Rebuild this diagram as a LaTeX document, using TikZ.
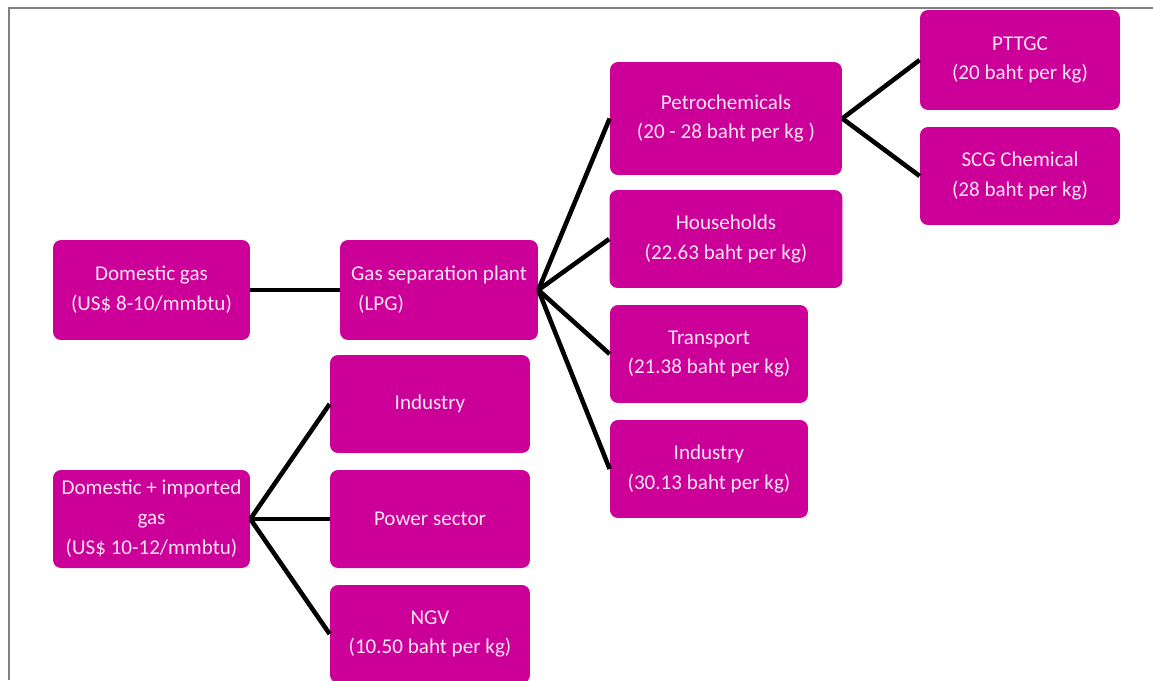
\documentclass[tikz,border=0pt]{standalone}
\usepackage{fontspec}
\setmainfont{Carlito}
\definecolor{boxmagenta}{RGB}{204,0,153}
\definecolor{boxtext}{RGB}{252,228,246}
\tikzset{
	box/.style={fill=boxmagenta, rounded corners=0.16cm, text=boxtext, align=center,
		font=\fontsize{12}{17}\selectfont, inner sep=2pt, minimum width=4cm, minimum height=1.96cm},
	link/.style={line width=2.6pt, black}
}
\begin{document}
\begin{tikzpicture}[x=0.02cm, y=-0.02cm]
			\useasboundingbox (0,0) rectangle (1153,680);
			\draw[line width=1.2pt, color=gray] (9,680) -- (9,8) -- (1153,8);
			% sources and plant
			\node[box, minimum width=3.94cm, minimum height=2cm] (dgas) at (151.5,290) {Domestic gas\\(US\$ 8-10/mmbtu)};
			\node[box, align=left, minimum width=3.96cm, minimum height=2cm] (gsp) at (439,290) {Gas separation plant\\\,\,(LPG)};
			\node[box, minimum width=3.94cm] (dimp) at (151.5,519) {Domestic + imported\\gas\\(US\$ 10-12/mmbtu)};
			% LPG users
			\node[box, minimum width=4.64cm, minimum height=2.26cm] (petro) at (726,118.5) {Petrochemicals\\(20 - 28 baht per kg )};
			\node[box, minimum width=4.66cm] (house) at (726,239) {Households\\(22.63 baht per kg)};
			\node[box, minimum width=3.96cm] (transp) at (709,354) {Transport\\(21.38 baht per kg)};
			\node[box, minimum width=3.96cm] (indR) at (709,469) {Industry\\(30.13 baht per kg)};
			\node[box, minimum height=2cm] (pttgc) at (1020,60) {PTTGC\\(20 baht per kg)};
			\node[box] (scg) at (1020,176) {SCG Chemical\\(28 baht per kg)};
			% gas users
			\node[box] (indL) at (430,404) {Industry};
			\node[box] (power) at (430,519) {Power sector};
			\node[box] (ngv) at (430,634) {NGV\\(10.50 baht per kg)};
			\foreach \src/\dst in {dgas/gsp, gsp/petro, gsp/house, gsp/transp, gsp/indR,
				petro/pttgc, petro/scg, dimp/indL, dimp/power, dimp/ngv}{
			\draw[link] (\src.east) -- (\dst.west);
			}
			\end{tikzpicture}
\end{document}
